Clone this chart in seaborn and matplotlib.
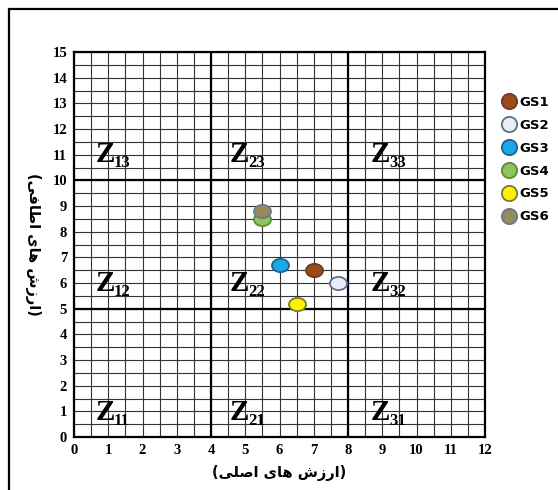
import matplotlib
matplotlib.use("Agg")
import matplotlib.pyplot as plt
import seaborn as sns
import pandas as pd
import numpy as np
from matplotlib.path import Path
from matplotlib.transforms import Affine2D
from matplotlib.lines import Line2D
from matplotlib.patches import Rectangle

# data
groups = ["GS1", "GS2", "GS3", "GS4", "GS5", "GS6"]
x_vals = [7.0, 7.7, 6.0, 5.5, 6.5, 5.5]
y_vals = [6.5, 6.0, 6.7, 8.5, 5.2, 8.8]
face_colors = ["#9B4A1C", "#E9EDF5", "#1CA7E8", "#8DC55B", "#FFF200", "#968A5E"]
edge_colors = ["#6E3A1E", "#5B6F8C", "#22608E", "#5E8A40", "#7D7A2E", "#6C7A86"]

zone_labels = ["11", "12", "13", "21", "22", "23", "31", "32", "33"]
zone_x = [0.62, 0.62, 0.62, 4.55, 4.55, 4.55, 8.65, 8.65, 8.65]
zone_y = [0.68, 5.7, 10.72, 0.68, 5.7, 10.72, 0.68, 5.7, 10.72]

x_ticks = list(range(0, 13))
y_ticks = list(range(0, 16))

# Persian labels written in visual order with presentation forms
x_label = "(" + "\uFEF0\uFEE0\uFEBB\uFE8D" + " " + "\uFEEF\uFE8E\uFEEB" + " " + "\uFEB5\uFEAF\uFEAD\uFE8D" + ")"
y_label = "(" + "\uFEF0\uFED3\uFE8E\uFEC3\uFE8D" + " " + "\uFEEF\uFE8E\uFEEB" + " " + "\uFEB5\uFEAF\uFEAD\uFE8D" + ")"

df = pd.DataFrame({"group": groups, "x": x_vals, "y": y_vals})

sns.set_style("white")
plt.rcParams["font.family"] = ["DejaVu Sans"]
plt.rcParams["text.color"] = "black"
plt.rcParams["axes.labelcolor"] = "black"
plt.rcParams["xtick.color"] = "black"
plt.rcParams["ytick.color"] = "black"

fig = plt.figure(figsize=(5.58, 4.9), dpi=100)
ax = fig.add_axes([74 / 558, 1 - 437 / 490, 411 / 558, 385 / 490])

# outer frame of the original figure
fig.patches.append(Rectangle((9 / 558, -0.1), 1.2, 1 - 9 / 490 + 0.1,
                             transform=fig.transFigure, fill=False,
                             edgecolor="black", linewidth=1.6))

ax.set_xlim(0, 12)
ax.set_ylim(0, 15)
ax.set_xticks(x_ticks)
ax.set_yticks(y_ticks)
ax.set_xticks(np.arange(0, 12.01, 0.5), minor=True)
ax.set_yticks(np.arange(0, 15.01, 0.5), minor=True)
ax.grid(which="both", color="#333333", linewidth=0.8)
ax.set_axisbelow(True)
ax.tick_params(which="both", length=0, pad=5)
for lab in ax.get_xticklabels() + ax.get_yticklabels():
    lab.set_fontfamily("Liberation Serif")
    lab.set_fontweight("bold")
    lab.set_fontsize(10.5)
    lab.set_color("black")

# quadrant lines
for v in [4, 8]:
    ax.axvline(v, color="black", linewidth=1.6)
for h in [5, 10]:
    ax.axhline(h, color="black", linewidth=1.6)
for sp in ax.spines.values():
    sp.set_color("black")
    sp.set_linewidth(1.6)

ellipse = Path.unit_circle().transformed(Affine2D().scale(1, 0.78))
for i, row in df.iterrows():
    sns.scatterplot(data=df.iloc[[i]], x="x", y="y", ax=ax, marker=ellipse,
                    s=150, color=face_colors[i], edgecolor=edge_colors[i],
                    linewidth=1.3, zorder=5, legend=False)

for lab, zx, zy in zip(zone_labels, zone_x, zone_y):
    ax.text(zx, zy, "Z", fontfamily="Liberation Serif", fontweight="bold",
            fontsize=21, ha="left", va="baseline", zorder=6)
    ax.text(zx + 0.55, zy - 0.2, lab, fontfamily="Liberation Serif",
            fontweight="bold", fontsize=12, ha="left", va="baseline", zorder=6)

ax.set_xlabel(x_label, fontsize=10.5, fontweight="bold", labelpad=6)
ax.set_ylabel(y_label, fontsize=10.5, fontweight="bold", rotation=270,
              labelpad=20, va="bottom")

handles = [Line2D([0], [0], marker="o", linestyle="", markersize=11,
                  markerfacecolor=fc, markeredgecolor=ec, markeredgewidth=1.3)
           for fc, ec in zip(face_colors, edge_colors)]
leg = fig.legend(handles, groups, loc="upper left",
                 bbox_to_anchor=(489 / 558, 1 - 84 / 490), frameon=False,
                 handletextpad=0.2, labelspacing=0.75, handlelength=1.2,
                 prop={"family": "DejaVu Sans", "weight": "bold", "size": 9.5})

fig.savefig("out.png", dpi=100)
